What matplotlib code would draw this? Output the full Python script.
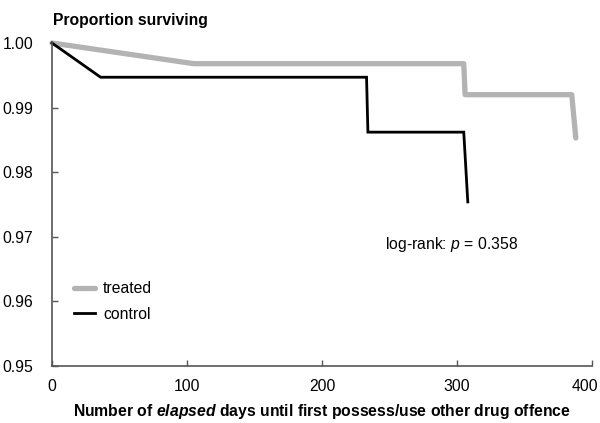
import matplotlib
matplotlib.use("Agg")
from matplotlib import pyplot as plt
from matplotlib.transforms import ScaledTranslation

plt.rcParams['font.family'] = ['Liberation Sans', 'DejaVu Sans']
plt.rcParams['mathtext.fontset'] = 'custom'
plt.rcParams['mathtext.it'] = 'Liberation Sans:italic'
plt.rcParams['mathtext.bfit'] = 'Liberation Sans:italic:bold'
plt.rcParams['mathtext.rm'] = 'Liberation Sans'

# survival curves (days, proportion surviving)
treated_days = [0, 105, 305, 306, 385, 388]
treated_surv = [1.000, 0.9968, 0.9968, 0.9920, 0.9920, 0.9853]
control_days = [0, 36, 233, 234, 305, 308]
control_surv = [1.000, 0.9947, 0.9947, 0.9862, 0.9862, 0.9754]

x_ticks = [0, 100, 200, 300, 400]
y_ticks = [0.95, 0.96, 0.97, 0.98, 0.99, 1.00]

fs = 11.3
fig = plt.figure(figsize=(6, 4.23), dpi=100)
ax = fig.add_axes([52/600, 1 - 366/423, 540/600, 323/423])

ax.plot(treated_days, treated_surv, color="#b3b3b3", lw=3.8,
        solid_capstyle="round", solid_joinstyle="round", clip_on=False, label="treated")
ax.plot(control_days, control_surv, color="black", lw=2.0,
        solid_joinstyle="miter", clip_on=False, label="control")

ax.set_xlim(0, 400)
ax.set_ylim(0.95, 1.00)
ax.set_xticks(x_ticks)
ax.set_yticks(y_ticks)
ax.set_yticklabels([f"{v:.2f}" for v in y_ticks])
ax.tick_params(direction="in", length=4, width=1, color="#555555", labelsize=fs)
ax.tick_params(axis="x", pad=9)
ax.tick_params(axis="y", pad=13.5)
for s in ["top", "right"]:
    ax.spines[s].set_visible(False)
for s in ["left", "bottom"]:
    ax.spines[s].set_color("#555555")
    ax.spines[s].set_linewidth(1.2)

# nudge the last x label inward so it stays on the canvas
last = ax.get_xticklabels()[-1]
last.set_transform(last.get_transform() + ScaledTranslation(-7/100, 0, fig.dpi_scale_trans))

ax.set_xlabel("Number of $\\mathbfit{elapsed}$ days until first possess/use other drug offence",
              fontsize=fs, fontweight="bold", labelpad=6)
fig.text(53/600, 1 - 20/423, "Proportion surviving", fontsize=fs, fontweight="bold",
         va="center", ha="left")
fig.text(385/600, 1 - 244/423, "log-rank: $p$ = 0.358", fontsize=fs, va="center", ha="left")

ax.legend(loc="upper left", bbox_to_anchor=(74/600, 1 - 281/423),
          bbox_transform=fig.transFigure, frameon=False, fontsize=fs,
          borderpad=0, borderaxespad=0, handlelength=1.35, handletextpad=0.5,
          labelspacing=0.68)

fig.savefig("out.png", dpi=100)
